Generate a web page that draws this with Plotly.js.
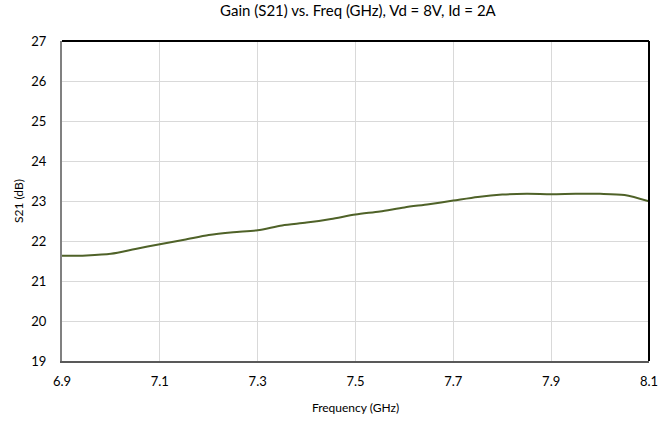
<!DOCTYPE html>
<html>
<head>
<meta charset="utf-8">
<script src="https://cdn.plot.ly/plotly-3.0.1.min.js"></script>
<style>html,body{margin:0;padding:0;background:#fff;}#chart{width:669px;height:421px;}</style>
</head>
<body>
<div id="chart"></div>
<script>
const freqGHz = [6.9, 6.95, 7.0, 7.05, 7.1, 7.15, 7.2, 7.25, 7.3, 7.35, 7.4, 7.45, 7.5, 7.55, 7.6, 7.65, 7.7, 7.75, 7.8, 7.85, 7.9, 7.95, 8.0, 8.05, 8.1];
const s21dB = [21.63, 21.64, 21.68, 21.8, 21.92, 22.03, 22.15, 22.22, 22.27, 22.39, 22.46, 22.55, 22.66, 22.74, 22.84, 22.92, 23.01, 23.1, 23.16, 23.18, 23.17, 23.18, 23.18, 23.15, 22.99];
const xTicks = [6.9, 7.1, 7.3, 7.5, 7.7, 7.9, 8.1];
const yTicks = [19, 20, 21, 22, 23, 24, 25, 26, 27];
const font = "Lato, 'Open Sans', sans-serif";

Plotly.newPlot('chart', [{
  x: freqGHz, y: s21dB, type: 'scatter', mode: 'lines',
  line: {color: '#4f6228', width: 2, shape: 'spline', smoothing: 0.8},
  hoverinfo: 'skip'
}], {
  width: 669, height: 421,
  margin: {l: 62, r: 20, t: 41, b: 60},
  paper_bgcolor: '#fff', plot_bgcolor: '#fff',
  showlegend: false,
  title: {text: 'Gain (S21) vs. Freq (GHz), Vd = 8V, Id = 2A', font: {family: font, size: 15, color: '#000'}, x: 0.535, xanchor: 'center', y: 0.975, yanchor: 'middle'},
  xaxis: {
    range: [6.9, 8.1], tickvals: xTicks, ticktext: xTicks.map(v => v.toFixed(1)),
    showgrid: true, gridcolor: '#d9d9d9', gridwidth: 1,
    showline: true, linecolor: '#595959', linewidth: 2,
    ticks: '', ticklabelstandoff: 7,
    tickfont: {family: font, size: 13, color: '#000'},
    title: {text: 'Frequency (GHz)', font: {family: font, size: 12, color: '#000'}, standoff: 16},
    zeroline: false, fixedrange: true
  },
  yaxis: {
    range: [19, 27], tickvals: yTicks,
    showgrid: true, gridcolor: '#d9d9d9', gridwidth: 1,
    showline: true, linecolor: '#808080', linewidth: 2,
    ticks: '', ticklabelstandoff: 11,
    tickfont: {family: font, size: 13, color: '#000'},
    title: {text: 'S21 (dB)', font: {family: font, size: 12, color: '#000'}, standoff: 5},
    zeroline: false, fixedrange: true
  },
  shapes: [
    {type: 'line', xref: 'paper', yref: 'paper', x0: 0, x1: 1, y0: 1, y1: 1, line: {color: '#000', width: 2}},
    {type: 'line', xref: 'paper', yref: 'paper', x0: 1, x1: 1, y0: 0, y1: 1, line: {color: '#000', width: 2}}
  ]
}, {displayModeBar: false, staticPlot: true});
</script>
</body>
</html>
